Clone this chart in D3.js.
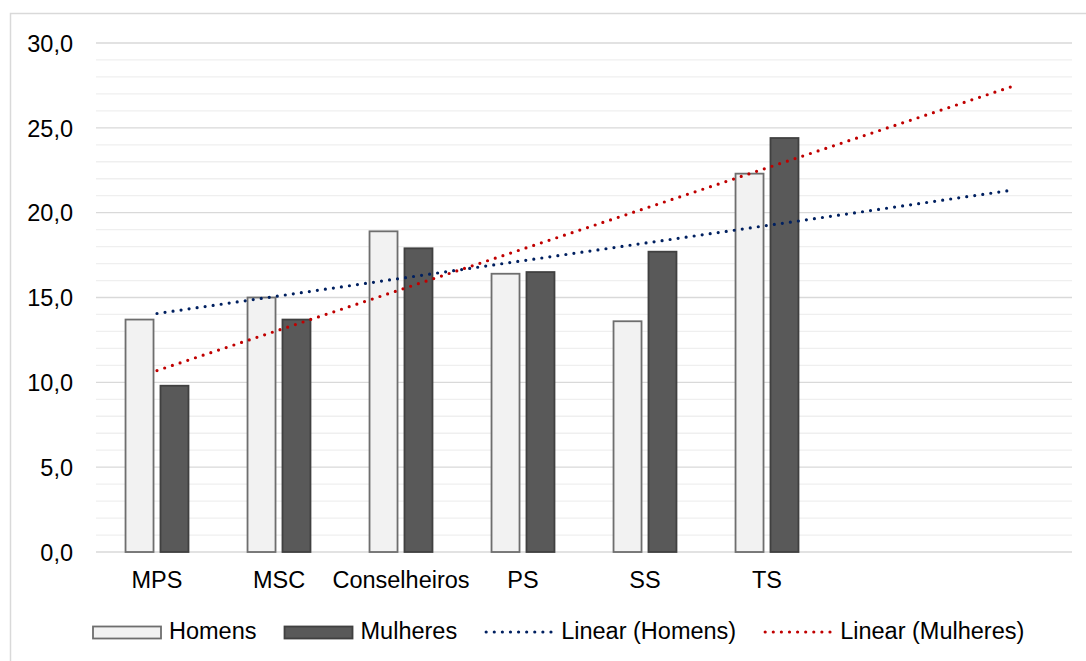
<!DOCTYPE html>
<html>
<head>
<meta charset="utf-8">
<script src="https://cdn.jsdelivr.net/npm/d3@7"></script>
<style>
  html, body { margin: 0; padding: 0; background: #ffffff; }
  svg { display: block; font-family: "Liberation Sans", Arial, sans-serif; }
</style>
</head>
<body>
<svg id="chart" width="1086" height="661"></svg>
<script>
// ---- data ----
const categories = ["MPS", "MSC", "Conselheiros", "PS", "SS", "TS"];
const homens = [13.7, 15.0, 18.9, 16.4, 13.6, 22.3];
const mulheres = [9.8, 13.7, 17.9, 16.5, 17.7, 24.4];
const yTickValues = [0, 5, 10, 15, 20, 25, 30];
const yTickLabels = ["0,0", "5,0", "10,0", "15,0", "20,0", "25,0", "30,0"];
const seriesNames = ["Homens", "Mulheres"];
const trendNames = ["Linear (Homens)", "Linear (Mulheres)"];
const forecastForward = 2;

// ---- layout ----
const svg = d3.select("#chart");
const W = 1086, H = 661;
const plot = { left: 96, right: 1072, top: 43, bottom: 552 };
const fontSize = 23.5;

const slots = d3.range(categories.length + forecastForward);
const x = d3.scaleBand().domain(slots).range([plot.left, plot.right]).padding(0);
const y = d3.scaleLinear().domain([0, 30]).range([plot.bottom, plot.top]);

const colors = {
  hFill: "#F2F2F2", hStroke: "#6E6E6E",
  mFill: "#595959", mStroke: "#404040",
  tH: "#002060", tM: "#C00000",
  major: "#D9D9D9", minor: "#EFEFEF", border: "#D9D9D9"
};

// outer border (only top/left visible in reference)
svg.append("rect")
  .attr("x", 10.5).attr("y", 13.5)
  .attr("width", W + 20).attr("height", H + 20)
  .attr("fill", "none").attr("stroke", colors.border).attr("stroke-width", 1.5);

// minor gridlines
const minorTicks = d3.range(0, 31, 1).filter(v => v % 5 !== 0);
svg.append("g").selectAll("line").data(minorTicks).join("line")
  .attr("x1", plot.left).attr("x2", plot.right)
  .attr("y1", d => y(d)).attr("y2", d => y(d))
  .attr("stroke", colors.minor).attr("stroke-width", 1.3);

// major gridlines
svg.append("g").selectAll("line").data(yTickValues).join("line")
  .attr("x1", plot.left).attr("x2", plot.right)
  .attr("y1", d => y(d)).attr("y2", d => y(d))
  .attr("stroke", colors.major).attr("stroke-width", 1.4);

// y axis labels
const yAxis = d3.axisLeft(y).tickValues(yTickValues)
  .tickFormat((d, i) => yTickLabels[i]).tickSize(0).tickPadding(0);
const gy = svg.append("g").attr("transform", "translate(73,0)").call(yAxis);
gy.select(".domain").remove();
gy.selectAll("text")
  .attr("font-size", fontSize).attr("font-family", "Liberation Sans, Arial, sans-serif")
  .attr("fill", "#000").attr("dy", "0.35em");

// x axis labels
const xAxis = d3.axisBottom(x).tickValues(d3.range(categories.length))
  .tickFormat(i => categories[i]).tickSize(0).tickPadding(0);
const gx = svg.append("g").attr("transform", `translate(0,580)`).call(xAxis);
gx.select(".domain").remove();
gx.selectAll("text")
  .attr("font-size", fontSize).attr("font-family", "Liberation Sans, Arial, sans-serif")
  .attr("fill", "#000").attr("dy", "0.35em");

// bars
const bw = x.bandwidth() * 0.2295;
const gap = x.bandwidth() * 0.057;
const center = i => x(i) + x.bandwidth() / 2;

svg.append("g").selectAll("rect").data(homens).join("rect")
  .attr("x", (d, i) => center(i) - gap / 2 - bw)
  .attr("y", d => y(d))
  .attr("width", bw)
  .attr("height", d => y(0) - y(d))
  .attr("fill", colors.hFill).attr("stroke", colors.hStroke).attr("stroke-width", 1.8);

svg.append("g").selectAll("rect").data(mulheres).join("rect")
  .attr("x", (d, i) => center(i) + gap / 2)
  .attr("y", d => y(d))
  .attr("width", bw)
  .attr("height", d => y(0) - y(d))
  .attr("fill", colors.mFill).attr("stroke", colors.mStroke).attr("stroke-width", 1.8);

// linear trendlines (least squares over x = 1..n, forecast forward)
function linReg(vals) {
  const xs = vals.map((v, i) => i + 1);
  const mx = d3.mean(xs), my = d3.mean(vals);
  const sxy = d3.sum(xs, (xv, i) => (xv - mx) * (vals[i] - my));
  const sxx = d3.sum(xs, xv => (xv - mx) * (xv - mx));
  const b = sxy / sxx;
  return { a: my - b * mx, b };
}
function trendPoints(vals) {
  const r = linReg(vals);
  const k0 = 1, k1 = vals.length + forecastForward;
  return [k0, k1].map(k => [center(k - 1), y(r.a + r.b * k)]);
}
const line = d3.line();
[[homens, colors.tH], [mulheres, colors.tM]].forEach(([vals, c]) => {
  svg.append("path")
    .attr("d", line(trendPoints(vals)))
    .attr("fill", "none").attr("stroke", c)
    .attr("stroke-width", 3.2).attr("stroke-linecap", "round")
    .attr("stroke-dasharray", "0 8.1");
});

// legend
const legY = 632;
const lg = svg.append("g");
let lx = 93;
const items = [
  { type: "rect", fill: colors.hFill, stroke: colors.hStroke, label: seriesNames[0] },
  { type: "rect", fill: colors.mFill, stroke: colors.mStroke, label: seriesNames[1] },
  { type: "line", stroke: colors.tH, label: trendNames[0] },
  { type: "line", stroke: colors.tM, label: trendNames[1] }
];
items.forEach(it => {
  const sw = 68;
  if (it.type === "rect") {
    lg.append("rect").attr("x", lx).attr("y", legY - 5.5).attr("width", sw).attr("height", 12)
      .attr("fill", it.fill).attr("stroke", it.stroke).attr("stroke-width", 1.8);
  } else {
    lg.append("line").attr("x1", lx + 1).attr("x2", lx + sw).attr("y1", legY).attr("y2", legY)
      .attr("stroke", it.stroke).attr("stroke-width", 3.2).attr("stroke-linecap", "round")
      .attr("stroke-dasharray", "0 8.1");
  }
  const t = lg.append("text").attr("x", lx + sw + 8).attr("y", legY - 1).attr("dy", "0.35em")
    .attr("font-size", fontSize).attr("fill", "#000").text(it.label);
  lx = lx + sw + 8 + t.node().getComputedTextLength() + 28;
});
</script>
</body>
</html>
